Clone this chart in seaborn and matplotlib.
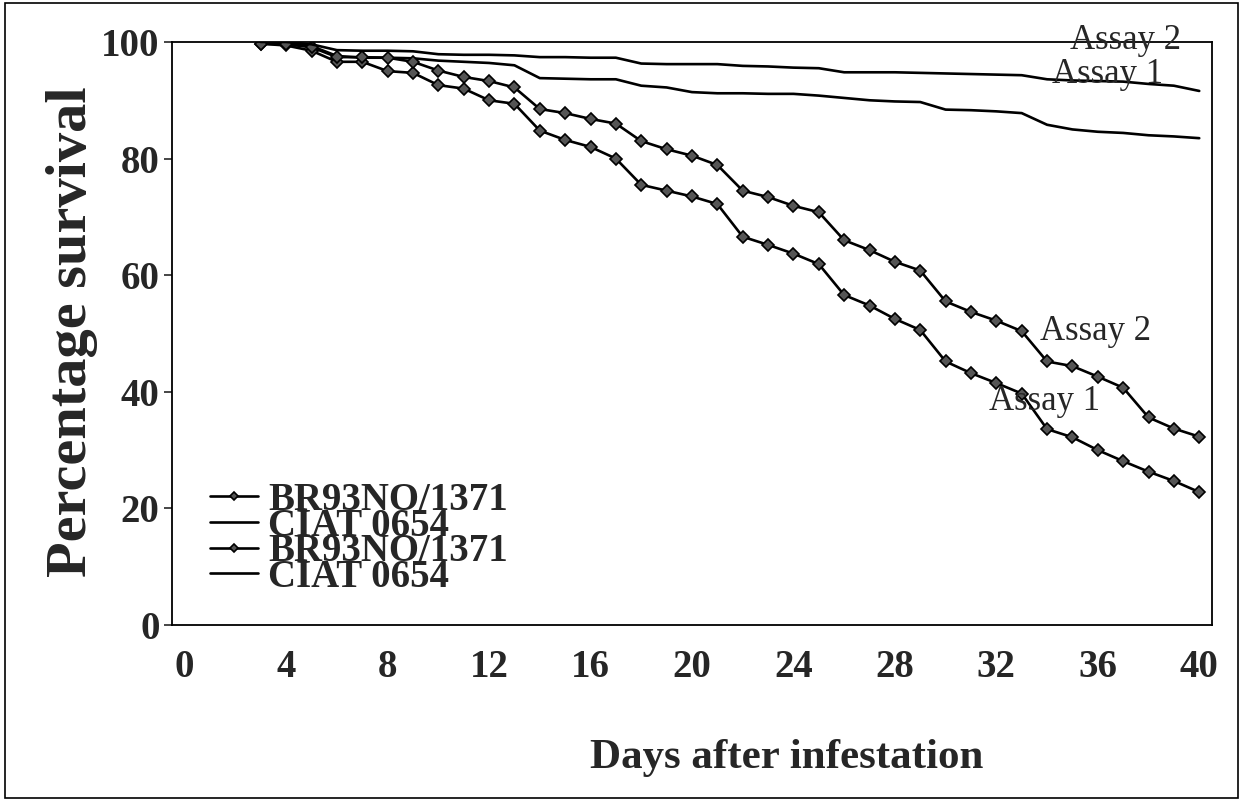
import pandas as pd
import seaborn as sns
import matplotlib.pyplot as plt

days = list(range(3, 41))

br_assay1 = [99.7, 99.4, 98.5, 96.6, 96.6, 95.0, 94.7, 92.6, 92.0, 90.0,
             89.4, 84.8, 83.2, 82.0, 80.0, 75.5, 74.5, 73.5, 72.2, 66.6,
             65.2, 63.7, 61.9, 56.6, 54.8, 52.5, 50.6, 45.2, 43.2, 41.5,
             39.7, 33.6, 32.2, 30.0, 28.1, 26.3, 24.7, 22.8]
br_assay2 = [99.7, 99.6, 99.1, 97.4, 97.4, 97.3, 96.6, 95.1, 94.0, 93.3,
             92.2, 88.5, 87.8, 86.8, 86.0, 83.0, 81.6, 80.5, 78.9, 74.5,
             73.4, 71.9, 70.8, 66.0, 64.3, 62.3, 60.8, 55.5, 53.7, 52.2,
             50.4, 45.2, 44.4, 42.6, 40.7, 35.6, 33.7, 32.3]
ciat_assay1 = [100, 99.8, 99.3, 97.6, 97.3, 97.3, 97.2, 96.8, 96.6, 96.4,
               96.0, 93.8, 93.7, 93.6, 93.6, 92.5, 92.2, 91.4, 91.2, 91.2,
               91.1, 91.1, 90.8, 90.4, 90.0, 89.8, 89.7, 88.4, 88.3, 88.1,
               87.8, 85.8, 85.0, 84.6, 84.4, 84.0, 83.8, 83.5]
ciat_assay2 = [100, 100, 99.6, 98.6, 98.5, 98.5, 98.4, 97.9, 97.8, 97.8,
               97.7, 97.4, 97.4, 97.3, 97.3, 96.3, 96.2, 96.2, 96.2, 95.9,
               95.8, 95.6, 95.5, 94.8, 94.8, 94.8, 94.7, 94.6, 94.5, 94.4,
               94.3, 93.6, 93.4, 93.3, 93.2, 92.8, 92.5, 91.6]

x_ticks = [0, 4, 8, 12, 16, 20, 24, 28, 32, 36, 40]
y_ticks = [0, 20, 40, 60, 80, 100]

sns.set_style("white")
plt.rcParams["font.family"] = ["Liberation Serif", "DejaVu Serif"]

fig = plt.figure(figsize=(12.43, 8.01), dpi=100)
ax = fig.add_axes([0.1384, 0.2197, 0.8366, 0.7279])

df = pd.DataFrame({"day": days, "br1": br_assay1, "br2": br_assay2,
                   "ciat1": ciat_assay1, "ciat2": ciat_assay2})

# diamond markers for the BR93NO/1371 series
mk = dict(marker="D", markersize=6.5, markerfacecolor="#555555",
          markeredgecolor="black", markeredgewidth=1.2)

sns.lineplot(data=df, x="day", y="br1", ax=ax, color="black", linewidth=1.9,
             label="BR93NO/1371", **mk)
sns.lineplot(data=df, x="day", y="ciat1", ax=ax, color="black", linewidth=1.9,
             label="CIAT 0654")
sns.lineplot(data=df, x="day", y="br2", ax=ax, color="black", linewidth=1.9,
             label="BR93NO/1371", **mk)
sns.lineplot(data=df, x="day", y="ciat2", ax=ax, color="black", linewidth=1.9,
             label="CIAT 0654")

ax.set_xlim(-0.5, 40.5)
ax.set_ylim(0, 100)
ax.set_xticks(x_ticks)
ax.set_yticks(y_ticks)
ax.tick_params(axis="x", length=0, pad=17, labelsize=28)
ax.tick_params(axis="y", length=6, width=1.2, direction="out", left=True,
               pad=3, labelsize=28)
for lab in ax.get_xticklabels() + ax.get_yticklabels():
    lab.set_fontweight("bold")

for s in ax.spines.values():
    s.set_color("black")
    s.set_linewidth(1.3)

ax.set_xlabel("")
ax.set_ylabel("")
fig.text(0.633, 0.054, "Days after infestation", ha="center", va="center",
         fontsize=31, fontweight="bold")
fig.text(0.058, 0.5855, "Percentage survival", ha="center", va="center",
         rotation=90, fontsize=42, fontweight="bold")

ax.text(37.1, 100.3, "Assay 2", fontsize=25, ha="center", va="center")
ax.text(36.4, 94.5, "Assay 1", fontsize=25, ha="center", va="center")
ax.text(35.9, 50.3, "Assay 2", fontsize=25, ha="center", va="center")
ax.text(33.9, 38.3, "Assay 1", fontsize=25, ha="center", va="center")

leg = ax.legend(loc="lower left", bbox_to_anchor=(0.010, 0.003), frameon=False,
                prop={"weight": "bold", "size": 28}, labelspacing=-0.29,
                handlelength=1.25, handletextpad=0.25, borderpad=0.2,
                markerscale=0.6)

fig.add_artist(plt.Rectangle((0.004, 0.004), 0.992, 0.992, fill=False,
                             edgecolor="black", linewidth=1.2,
                             transform=fig.transFigure))

fig.savefig("out.png", dpi=100)
